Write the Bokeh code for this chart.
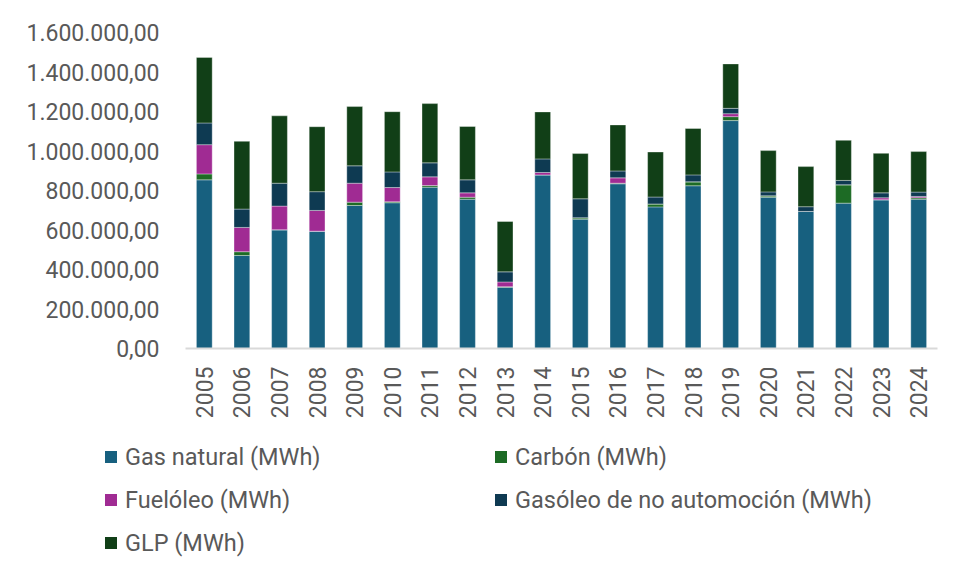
import math
from bokeh.plotting import figure
from bokeh.layouts import column
from bokeh.models import (ColumnDataSource, FactorRange, Range1d, FixedTicker,
                          CustomJSTickFormatter, Div)
from bokeh.embed import file_html
from bokeh.resources import INLINE

years = [str(y) for y in range(2005, 2025)]
gas_natural = [854000, 471000, 601000, 594000, 724000, 738000, 817000, 756000, 310000, 879000,
               655000, 834000, 717000, 824000, 1154000, 766000, 694000, 736000, 753000, 756000]
carbon = [30000, 19000, 0, 0, 17000, 5000, 8000, 10000, 3000, 0,
          7000, 3000, 15000, 20000, 20000, 7000, 0, 93000, 0, 7000]
fueloleo = [148000, 123000, 120000, 105000, 96000, 72000, 44000, 22000, 24000, 12000,
            0, 27000, 0, 0, 15000, 0, 0, 0, 10000, 7000]
gasoleo = [110000, 93000, 116000, 95000, 88000, 79000, 71000, 66000, 51000, 69000,
           96000, 35000, 35000, 35000, 27000, 20000, 24000, 22000, 25000, 22000]
glp = [332000, 343000, 341000, 329000, 300000, 305000, 300000, 270000, 255000, 238000,
       229000, 233000, 228000, 235000, 225000, 209000, 203000, 203000, 200000, 205000]

series = ["gas", "carbon", "fuel", "gasoleo", "glp"]
labels = ["Gas natural (MWh)", "Carbón (MWh)", "Fuelóleo (MWh)",
          "Gasóleo de no automoción (MWh)", "GLP (MWh)"]
colors = ["#17607F", "#1D6B25", "#A02B93", "#0E3A52", "#113F17"]
y_ticks = [0, 200000, 400000, 600000, 800000, 1000000, 1200000, 1400000, 1600000]

source = ColumnDataSource(dict(year=years, gas=gas_natural, carbon=carbon, fuel=fueloleo,
                               gasoleo=gasoleo, glp=glp))

FONT = "Roboto"
TXT = "#595959"

p = figure(x_range=FactorRange(*years, range_padding=0), y_range=Range1d(0, 1600000),
           frame_width=752, frame_height=316,
           min_border_left=185, min_border_right=16, min_border_top=32, min_border_bottom=80,
           output_backend="svg", toolbar_location=None, tools="")
p.outline_line_color = None
p.xgrid.grid_line_color = None
p.ygrid.grid_line_color = None

rs = p.vbar_stack(series, x="year", width=0.42, color=colors, source=source,
                  line_color="white", line_alpha=0.35, line_width=1)

p.yaxis.ticker = FixedTicker(ticks=y_ticks)
p.yaxis.formatter = CustomJSTickFormatter(code="""
const s = Math.round(tick).toString().replace(/\\B(?=(\\d{3})+(?!\\d))/g, ".");
return s + ",00";
""")
p.yaxis.axis_line_color = None
p.yaxis.major_tick_line_color = None
p.yaxis.minor_tick_line_color = None
p.yaxis.major_label_standoff = 20
p.yaxis.major_label_text_font = FONT
p.yaxis.major_label_text_font_size = "23px"
p.yaxis.major_label_text_color = TXT

p.xaxis.axis_line_color = "#D9D9D9"
p.xaxis.axis_line_width = 2
p.xaxis.major_tick_line_color = None
p.xaxis.minor_tick_line_color = None
p.xaxis.major_label_orientation = math.pi / 2
p.xaxis.major_label_standoff = 12
p.xaxis.major_label_text_font = FONT
p.xaxis.major_label_text_font_size = "23px"
p.xaxis.major_label_text_color = TXT

# legend (two columns, row-major: Gas natural | Carbón / Fuelóleo | Gasóleo / GLP)
cells = []
for lab, col in zip(labels, colors):
    cells.append(
        f'<div style="display:flex;align-items:center;height:26px;white-space:nowrap;">'
        f'<span style="display:inline-block;width:12px;height:12px;background:{col};'
        f'margin-right:8px;flex:none;"></span>'
        f'<span style="font-family:Roboto;font-size:23.5px;color:{TXT};line-height:26px;">{lab}</span>'
        f'</div>'
    )
legend_html = (
    '<div style="display:grid;grid-template-columns:390px 390px;row-gap:17px;'
    'padding-left:100px;padding-top:11px;">' + "".join(cells) + '</div>'
)
legend_div = Div(text=legend_html, width=953, height=149)

layout = column(p, legend_div, spacing=0)
open("out.html", "w").write(file_html(layout, INLINE))
